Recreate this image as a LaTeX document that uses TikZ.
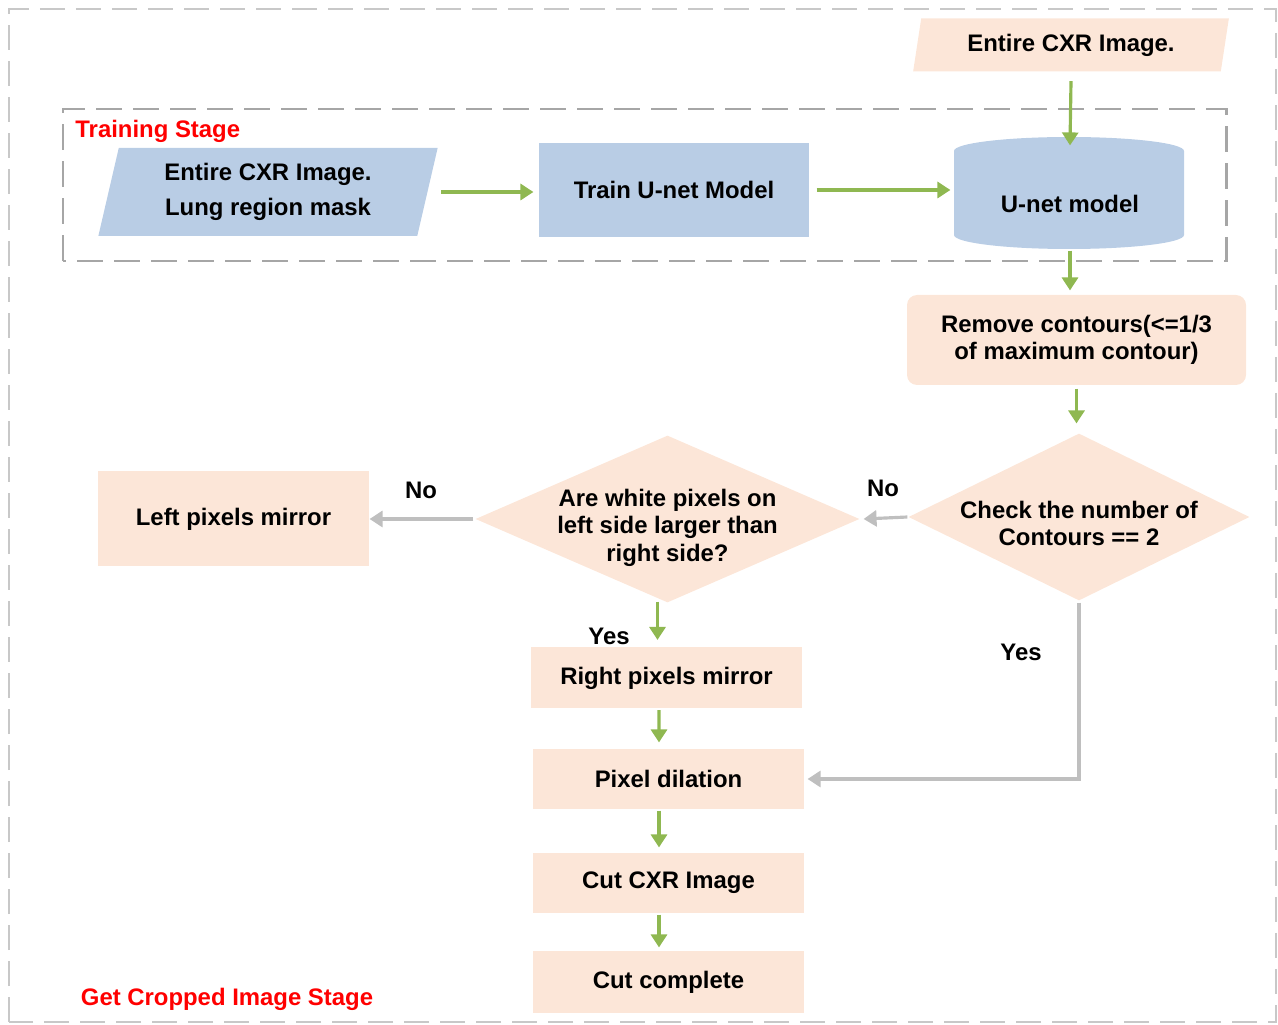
\documentclass[tikz,border=0pt]{standalone}
\usepackage{fontspec}
\setmainfont{Liberation Sans}
\usetikzlibrary{arrows.meta, positioning, calc, shapes.geometric}
\definecolor{peach}{HTML}{FCE6D8}
\definecolor{skyblue}{HTML}{B9CDE5}
\definecolor{leafgreen}{HTML}{8FB851}
\definecolor{arrowgray}{HTML}{BFBFBF}
\definecolor{dashgray}{HTML}{A6A6A6}
\definecolor{framegray}{HTML}{C8C8C8}

\begin{document}
\begin{tikzpicture}[>={Triangle[length=2.6mm, width=3.2mm]}, line width=1.8pt,
  bfont/.style={font=\fontsize{13.6}{15.6}\selectfont\bfseries},
  stepbox/.style={bfont, fill=#1, inner sep=0pt, minimum width=5.42cm,
                  minimum height=1.2cm, align=center},
  slantbox/.style={bfont, trapezium, trapezium left angle=76, trapezium right angle=104,
                   trapezium stretches=true, fill=#1, inner sep=0pt, align=center},
  decision/.style={diamond, fill=peach, inner sep=0pt, minimum height=3.36cm},
  yesflow/.style={leafgreen, ->},
  noflow/.style={arrowgray, ->},
  tag/.style={bfont, text=black},
  stagetag/.style={bfont, text=red}
]

% Canvas
\useasboundingbox (0,0) rectangle (25.56,20.48);
\draw[framegray, line width=1.1pt, dash pattern=on 0.5cm off 0.22cm] (0.18,0.04) rectangle (25.52,20.3);

% Training stage frame
\draw[dashgray, line width=1.7pt, dash pattern=on 0.52cm off 0.22cm] (1.26,15.26) rectangle (24.52,18.3);
\node[stagetag, anchor=west] (train-tag) at (1.36,17.86) {Training Stage};

% Input image
\node[slantbox=peach, minimum width=6.32cm, minimum height=1.06cm] (input) at (21.42,19.58) {Entire CXR Image.};

% Training stage
\node[slantbox=skyblue, minimum width=6.8cm, minimum height=1.76cm] (mask) at (5.36,16.64)
  {Entire CXR Image.\\[4pt] Lung region mask};
\node[stepbox=skyblue, minimum width=5.4cm, minimum height=1.88cm] (train) at (13.48,16.68) {Train U-net Model};

% U-net model cylinder
\fill[skyblue] (19.08,17.46) arc[start angle=180, end angle=0, x radius=2.3cm, y radius=0.28cm]
  -- (23.68,15.78) arc[start angle=0, end angle=-180, x radius=2.3cm, y radius=0.28cm] -- cycle;
\node[bfont, minimum width=4.6cm, minimum height=1.8cm] (unet) at (21.4,16.4) {U-net model};

% Get cropped image stage
\node[stepbox=peach, rounded corners=0.2cm, minimum width=6.78cm, minimum height=1.8cm] (remove) at (21.53,13.68)
  {Remove contours(<=1/3\\of maximum contour)};

\node[decision, minimum width=6.84cm] (check) at (21.58,10.14) {};
\node[bfont, align=center] (check-text) at (21.58,10.01) {Check the number of\\Contours == 2};

\node[decision, minimum width=7.7cm] (side) at (13.35,10.1) {};
\node[bfont, align=center] (side-text) at (13.35,9.93) {Are white pixels on\\left side larger than\\right side?};

\node[stepbox=peach, minimum height=1.9cm] (mirror-left) at (4.67,10.1) {Left pixels mirror};
\node[stepbox=peach, minimum height=1.22cm] (mirror-right) at (13.33,6.92) {Right pixels mirror};
\node[stepbox=peach] (dilate) at (13.37,4.9) {Pixel dilation};
\node[stepbox=peach] (cut) at (13.37,2.82) {Cut CXR Image};
\node[stepbox=peach, minimum height=1.24cm] (done) at (13.37,0.84) {Cut complete};

% Training arrows
\draw[yesflow] ([yshift=-0.16cm]input.south) -- ([yshift=0.24cm]unet.north);
\draw[yesflow] ([xshift=0.24cm]mask.east) -- ([xshift=-0.08cm]mask.east -| train.west);
\draw[yesflow] ([xshift=0.12cm]train.east) -- ([xshift=-0.06cm]train.east -| unet.west);

% Cropping arrows
\draw[yesflow] (unet.south) -- ($(unet.south |- remove.north)+(0,0.06)$);
\draw[yesflow] ($(remove.south)+(0,-0.04)$) -- ($(remove.south |- check.north)+(0,0.16)$);
\draw[noflow] ([xshift=0.02cm]check.west) -- ([xshift=0.04cm]side.east);
\draw[noflow] (side.west) -- ([xshift=-0.02cm]side.west -| mirror-left.east);
\draw[yesflow] ($(side.south)+(-0.2,0.06)$) -- ($(mirror-right.north)+(-0.18,0.12)$);
\draw[yesflow] ($(mirror-right.south)+(-0.15,0)$) -- ($(dilate.north)+(-0.19,0.1)$);
\draw[yesflow] ($(dilate.south)+(-0.19,0)$) -- ($(cut.north)+(-0.19,0.08)$);
\draw[yesflow] ($(cut.south)+(-0.19,0)$) -- ($(done.north)+(-0.19,0.04)$);
\draw[noflow] (check.south) |- ([xshift=0.04cm]dilate.east);

% Branch labels
\node[tag] (no-right) at (17.66,10.72) {No};
\node[tag] (no-left) at (8.42,10.68) {No};
\node[tag] (yes-down) at (12.18,7.76) {Yes};
\node[tag] (yes-right) at (20.42,7.44) {Yes};
\node[stagetag] (crop-tag) at (4.54,0.5) {Get Cropped Image Stage};

\end{tikzpicture}
\end{document}
